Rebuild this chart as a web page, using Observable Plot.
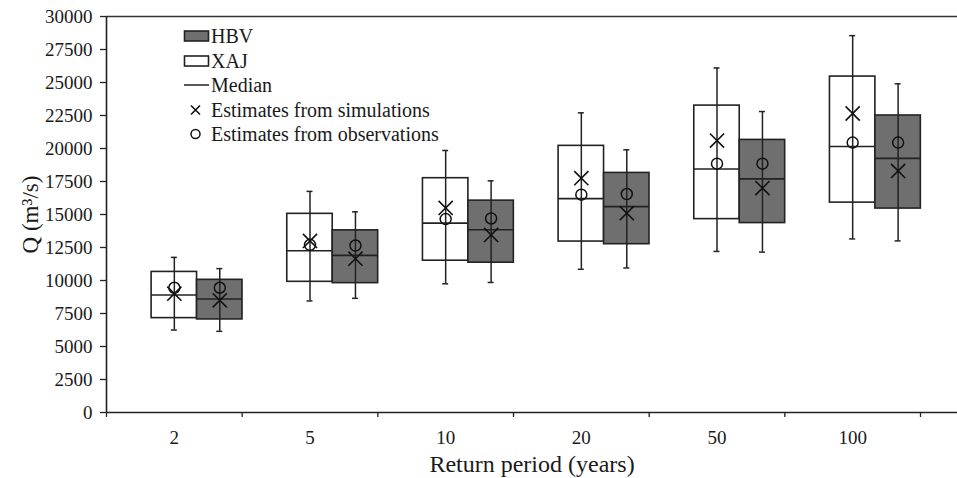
<!DOCTYPE html>
<html>
<head>
<meta charset="utf-8">
<script src="https://cdn.jsdelivr.net/npm/d3@7"></script>
<script src="https://cdn.jsdelivr.net/npm/@observablehq/plot@0.6"></script>
<style>
  html, body { margin: 0; padding: 0; background: #fff; }
  #wrap { position: relative; width: 957px; height: 478px; font-family: "Liberation Serif", "Times New Roman", Times, serif; }
  #wrap svg, #wrap svg text { font-family: "Liberation Serif", "Times New Roman", Times, serif !important; }
  #legend { position: absolute; left: 183px; top: 24px; font-size: 20px; color: #1a1a1a; }
  .row { display: flex; align-items: center; height: 24.5px; }
  .row svg { width: 28px; height: 24px; flex: none; }
  .row span { margin-left: 0px; line-height: 20px; }
</style>
</head>
<body>
<div id="wrap"></div>
<script>
// Return periods (years)
const categories = ["2", "5", "10", "20", "50", "100"];
const models = ["XAJ", "HBV"];

// XAJ model
const xajQ1  = [7150, 9900, 11500, 12950, 14650, 15900];
const xajQ3  = [10650, 15050, 17750, 20200, 23250, 25450];
const xajMed = [8900, 12250, 14350, 16200, 18450, 20150];
const xajLo  = [6250, 8450, 9750, 10850, 12200, 13150];
const xajHi  = [11750, 16750, 19850, 22700, 26100, 28550];
const xajSim = [9000, 13000, 15500, 17750, 20600, 22650];
const xajObs = [9450, 12700, 14650, 16500, 18850, 20450];

// HBV model
const hbvQ1  = [7050, 9800, 11350, 12750, 14350, 15450];
const hbvQ3  = [10050, 13800, 16050, 18150, 20650, 22500];
const hbvMed = [8600, 11900, 13850, 15600, 17700, 19250];
const hbvLo  = [6150, 8650, 9850, 10950, 12150, 13000];
const hbvHi  = [10900, 15200, 17550, 19900, 22800, 24900];
const hbvSim = [8500, 11650, 13450, 15100, 17000, 18300];
const hbvObs = [9450, 12650, 14700, 16550, 18850, 20450];

const yTicks = d3.range(0, 30001, 2500);

const series = {
  XAJ: {q1: xajQ1, q3: xajQ3, med: xajMed, lo: xajLo, hi: xajHi, sim: xajSim, obs: xajObs},
  HBV: {q1: hbvQ1, q3: hbvQ3, med: hbvMed, lo: hbvLo, hi: hbvHi, sim: hbvSim, obs: hbvObs}
};

const boxW = 0.335;
const rows = [];
models.forEach((m, mi) => {
  categories.forEach((c, i) => {
    const s = series[m];
    const cx = i + 0.5 + mi * boxW;
    rows.push({model: m, cat: c, cx, x1: cx - boxW / 2, x2: cx + boxW / 2,
      q1: s.q1[i], q3: s.q3[i], med: s.med[i], lo: s.lo[i], hi: s.hi[i], sim: s.sim[i], obs: s.obs[i]});
  });
});

const fill = {XAJ: "#ffffff", HBV: "#6f6f6f"};
const capW = 0.022;
const font = "'Liberation Serif', 'Times New Roman', Times, serif";

const chart = Plot.plot({
  width: 957,
  height: 478,
  marginLeft: 106,
  marginRight: 0,
  marginTop: 16,
  marginBottom: 66,
  style: {fontFamily: font, fontSize: "19px", color: "#1a1a1a", background: "transparent"},
  x: {type: "linear", domain: [0, 851 / (814 / 6)], axis: null},
  y: {domain: [0, 30000], axis: null},
  marks: [
    Plot.rect(rows, {x1: "x1", x2: "x2", y1: "q1", y2: "q3", fill: d => fill[d.model], stroke: "#222", strokeWidth: 1.6}),
    Plot.ruleX(rows, {x: "cx", y1: "lo", y2: "hi", stroke: "#222", strokeWidth: 1.5}),
    Plot.ruleY(rows, {y: "hi", x1: d => d.cx - capW, x2: d => d.cx + capW, stroke: "#222", strokeWidth: 1.5}),
    Plot.ruleY(rows, {y: "lo", x1: d => d.cx - capW, x2: d => d.cx + capW, stroke: "#222", strokeWidth: 1.5}),
    Plot.ruleY(rows, {y: "med", x1: "x1", x2: "x2", stroke: "#222", strokeWidth: 1.6}),
    Plot.dot(rows, {x: "cx", y: "obs", symbol: "circle", r: 5.5, stroke: "#111", strokeWidth: 1.5, fill: "none"}),
    Plot.dot(rows, {x: "cx", y: "sim", symbol: "times", r: 6.5, stroke: "#111", strokeWidth: 1.6}),
    // frame lines
    Plot.ruleY([30000], {stroke: "#333", strokeWidth: 1.6}),
    Plot.ruleY([0], {stroke: "#222", strokeWidth: 1.6}),
    Plot.ruleX([0], {stroke: "#222", strokeWidth: 1.6}),
    // axes
    Plot.axisY({ticks: yTicks, tickSize: 6, tickPadding: 8, label: null, fontSize: 19, stroke: "#222", strokeWidth: 1.3, tickFormat: d => String(d)}),
    Plot.axisX({ticks: d3.range(0, 7), tickSize: 5, tickPadding: 0, tickFormat: () => "", label: null, stroke: "#222", strokeWidth: 1.3}),
    Plot.axisX({ticks: categories.map((c, i) => i + 0.5), tickSize: 0, tickPadding: 18, fontSize: 19, label: null,
      tickFormat: d => categories[Math.floor(d)]}),
    Plot.text(["Return period (years)"], {frameAnchor: "bottom", dy: 52, lineAnchor: "middle", fontSize: 24, fill: "#1a1a1a"}),
    Plot.text(["Q (m³/s)"], {frameAnchor: "left", dx: -76, rotate: -90, textAnchor: "middle", lineAnchor: "middle", fontSize: 23, fill: "#1a1a1a"})
  ]
});

const wrap = document.getElementById("wrap");
wrap.appendChild(chart);

// Legend
const legendItems = [
  {label: "HBV", kind: "box", fill: fill.HBV},
  {label: "XAJ", kind: "box", fill: fill.XAJ},
  {label: "Median", kind: "line"},
  {label: "Estimates from simulations", kind: "times"},
  {label: "Estimates from observations", kind: "circle"}
];
const legend = document.createElement("div");
legend.id = "legend";
legendItems.forEach(it => {
  const row = document.createElement("div");
  row.className = "row";
  let g = "";
  if (it.kind === "box") g = `<rect x="1.5" y="7" width="24" height="10" fill="${it.fill}" stroke="#222" stroke-width="1.6"/>`;
  if (it.kind === "line") g = `<line x1="1" x2="26" y1="12" y2="12" stroke="#222" stroke-width="1.5"/>`;
  if (it.kind === "times") g = `<path d="M8,7.5L17,16.5M17,7.5L8,16.5" stroke="#111" stroke-width="1.6"/>`;
  if (it.kind === "circle") g = `<circle cx="12.5" cy="12" r="4.5" fill="none" stroke="#111" stroke-width="1.5"/>`;
  row.innerHTML = `<svg viewBox="0 0 28 24">${g}</svg><span>${it.label}</span>`;
  legend.appendChild(row);
});
wrap.appendChild(legend);
</script>
</body>
</html>
